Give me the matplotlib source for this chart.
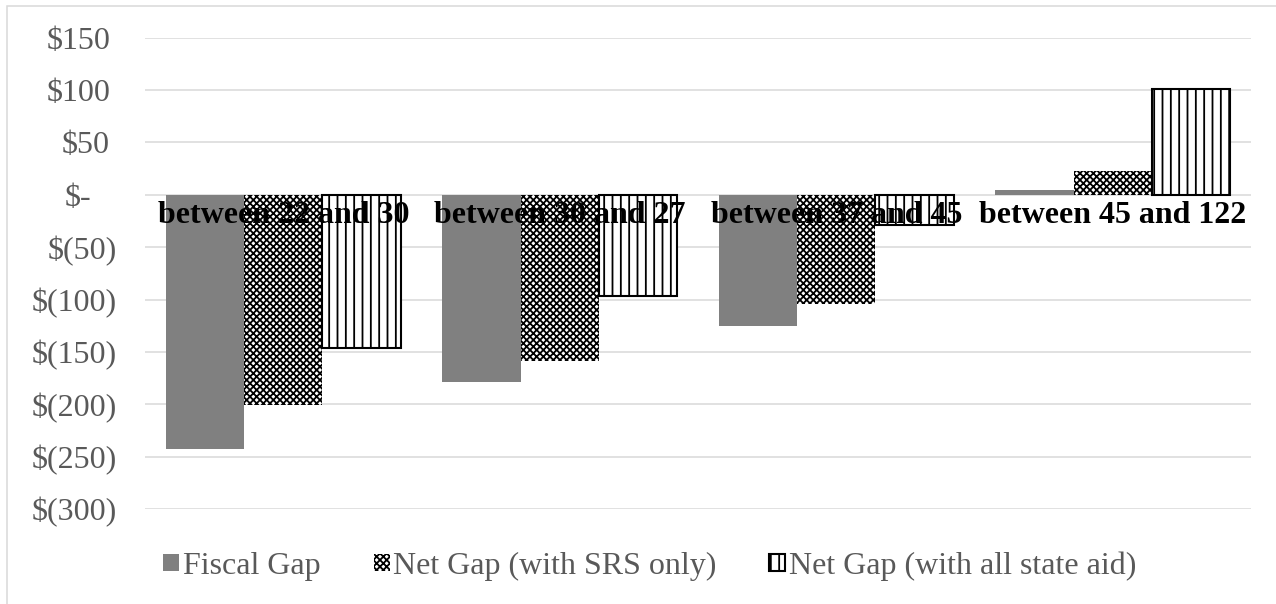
import numpy as np
import matplotlib
matplotlib.use('Agg')
import matplotlib.pyplot as plt
from matplotlib.patches import Patch, Rectangle

# datos
categorias = ['between 22 and 30', 'between 30 and 27', 'between 37 and 45', 'between 45 and 122']
fiscal_gap = [-243, -179, -125, 5]
net_gap_srs = [-201, -159, -104, 23]
net_gap_all = [-146, -97, -29, 101]
y_ticks = [150, 100, 50, 0, -50, -100, -150, -200, -250, -300]

plt.rcParams['font.family'] = ['Liberation Serif', 'DejaVu Serif']
plt.rcParams['hatch.linewidth'] = 1.3

gris_texto = '#595959'
gris_linea = '#d9d9d9'
tam = 23
trama_srs = 'xxxxx'

fig = plt.figure(figsize=(12.76, 6.04), dpi=100)
ax = fig.add_axes([145 / 1276, 95 / 604, 1106 / 1276, 471.3 / 604])

x = np.arange(len(categorias))
w = 0.283
ax.bar(x - w, fiscal_gap, w, color='#808080', linewidth=0, label='Fiscal Gap')
ax.bar(x, net_gap_srs, w, color='white', edgecolor='black', linewidth=0,
       hatch=trama_srs, label='Net Gap (with SRS only)')
ax.bar(x + w, net_gap_all, w, color='white', edgecolor='black', linewidth=1.5,
       hatch='||', label='Net Gap (with all state aid)')

ax.set_xlim(-0.5, 3.5)
ax.set_ylim(-300, 150)

# lineas de cuadricula
ax.set_yticks(y_ticks)
ax.yaxis.grid(True, color=gris_linea, linewidth=1.1)
ax.set_axisbelow(True)
ax.tick_params(axis='y', length=0, labelleft=False)
for s in ax.spines.values():
    s.set_visible(False)

# etiquetas eje y (formato contable)
for v in y_ticks:
    if v > 0:
        txt, dx = '$%d' % v, -35
    elif v == 0:
        txt, dx = '$-', -54
    else:
        txt, dx = '$(%d)' % -v, -28
    ax.annotate(txt, xy=(0, v), xycoords=('axes fraction', 'data'),
                xytext=(dx * 0.72, 0), textcoords='offset points',
                ha='right', va='center_baseline', fontsize=tam, color=gris_texto,
                annotation_clip=False)

# etiquetas de categoria sobre el eje en cero
ax.spines['bottom'].set_position(('data', 0))
ax.set_xticks(x)
ax.set_xticklabels(categorias, fontsize=tam, fontweight='bold', color='black')
ax.tick_params(axis='x', length=0, pad=4.5)
ax.xaxis.set_zorder(5)

handles = [
    Patch(facecolor='#808080', linewidth=0),
    Patch(facecolor='white', edgecolor='black', linewidth=0, hatch=trama_srs),
    Patch(facecolor='white', edgecolor='black', linewidth=1.5, hatch='||'),
]
labels = ['Fiscal Gap', 'Net Gap (with SRS only)', 'Net Gap (with all state aid)']
leg = fig.legend(handles, labels, loc='center', bbox_to_anchor=(650 / 1276, 38 / 604),
                 ncol=3, frameon=False, fontsize=tam, handlelength=0.5,
                 handleheight=0.45, handletextpad=0.12, columnspacing=1.65,
                 borderaxespad=0, borderpad=0)
for t in leg.get_texts():
    t.set_color(gris_texto)

# borde del grafico
fig.patches.append(Rectangle((7 / 1276, -0.05), 1.2, 0.05 + 598 / 604,
                             transform=fig.transFigure, fill=False,
                             edgecolor=gris_linea, linewidth=1.1))

fig.savefig('out.png', dpi=100)
